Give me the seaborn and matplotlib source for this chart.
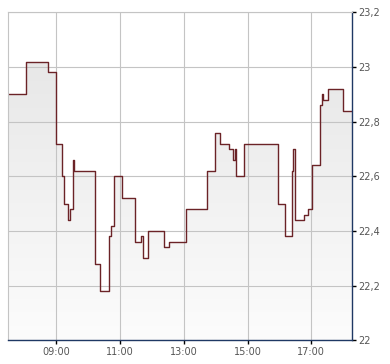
import numpy as np
import pandas as pd
import matplotlib
matplotlib.use("Agg")
import matplotlib.pyplot as plt
import seaborn as sns
from matplotlib.ticker import FixedLocator, FuncFormatter

times = ["07:30", "08:04", "08:44", "09:00", "09:11", "09:15", "09:23", "09:26",
         "09:31", "09:33", "10:13", "10:23", "10:40", "10:44", "10:49", "11:04",
         "11:29", "11:40", "11:44", "11:52", "12:23", "12:32", "13:05", "13:43",
         "13:58", "14:09", "14:26", "14:32", "14:37", "14:39", "14:53", "15:58",
         "16:11", "16:23", "16:26", "16:30", "16:47", "16:53", "17:01", "17:02",
         "17:17", "17:20", "17:22", "17:31", "17:59", "18:17"]
prices = [22.90, 23.02, 22.98, 22.72, 22.60, 22.50, 22.44, 22.48,
          22.66, 22.62, 22.28, 22.18, 22.38, 22.42, 22.60, 22.52,
          22.36, 22.38, 22.30, 22.40, 22.34, 22.36, 22.48, 22.62,
          22.76, 22.72, 22.70, 22.66, 22.70, 22.60, 22.72, 22.50,
          22.38, 22.62, 22.70, 22.44, 22.46, 22.48, 22.56, 22.64,
          22.86, 22.90, 22.88, 22.92, 22.84, 22.84]
x_ticks = ["09:00", "11:00", "13:00", "15:00", "17:00"]
y_ticks = [22.0, 22.2, 22.4, 22.6, 22.8, 23.0, 23.2]


def to_min(s):
    h, m = s.split(":")
    return int(h) * 60 + int(m)


df = pd.DataFrame({"t": [to_min(s) for s in times], "p": prices})

sns.set_theme(style="white")
plt.rcParams["font.family"] = ["DejaVu Sans"]

fig = plt.figure(figsize=(3.9, 3.64), dpi=100)
ax = fig.add_axes([8.3 / 390, (364 - 340.3) / 364, (352.3 - 8.3) / 390, (340.3 - 12.3) / 364])

xmin, xmax = df["t"].min(), df["t"].max()
ymin, ymax = 22.0, 23.2
ax.set_xlim(xmin, xmax)
ax.set_ylim(ymin, ymax)

# gradient fill below the step line
poly = ax.fill_between(df["t"], df["p"], ymin, step="post", color="none", lw=0)
grad = np.linspace(0, 1, 256).reshape(-1, 1)
cmap = matplotlib.colors.LinearSegmentedColormap.from_list("g", ["#fcfcfc", "#e4e4e4"])
im = ax.imshow(grad, extent=[xmin, xmax, ymin, ymax], origin="lower", aspect="auto",
               cmap=cmap, zorder=1)
path = poly.get_paths()[0]
im.set_clip_path(path, transform=ax.transData)

sns.lineplot(data=df, x="t", y="p", drawstyle="steps-post", color="#6b2327",
             lw=1.0, ax=ax, zorder=3, sort=False)

ax.set_xlabel("")
ax.set_ylabel("")
ax.xaxis.set_major_locator(FixedLocator([to_min(s) for s in x_ticks]))
ax.xaxis.set_major_formatter(FuncFormatter(lambda v, p: f"{int(v // 60):02d}:{int(v % 60):02d}"))
ax.yaxis.set_major_locator(FixedLocator(y_ticks))
ax.yaxis.set_major_formatter(FuncFormatter(lambda v, p: (f"{v:.1f}".rstrip("0").rstrip(".")).replace(".", ",")))
ax.yaxis.tick_right()

ax.grid(True, color="#c4c4c4", lw=0.8, zorder=2)
ax.set_axisbelow(False)
for l in ax.get_xgridlines() + ax.get_ygridlines():
    l.set_zorder(2)

navy = "#1f3864"
ax.spines["right"].set_color(navy)
ax.spines["bottom"].set_color(navy)
ax.spines["right"].set_linewidth(1.0)
ax.spines["bottom"].set_linewidth(1.0)
ax.spines["left"].set_color("#c4c4c4")
ax.spines["top"].set_color("#c4c4c4")
ax.spines["left"].set_linewidth(0.8)
ax.spines["top"].set_linewidth(0.8)
for s in ax.spines.values():
    s.set_zorder(4)

ax.tick_params(axis="x", which="major", direction="out", length=3, width=1,
               color="#000000", pad=2, labelsize=7, labelcolor="#555555", bottom=True)
ax.tick_params(axis="y", which="major", direction="out", length=3, width=1,
               color="#000000", pad=1.5, labelsize=7, labelcolor="#555555",
               right=True, left=False, labelright=True, labelleft=False)

fig.savefig("out.png", dpi=100, facecolor="white")
